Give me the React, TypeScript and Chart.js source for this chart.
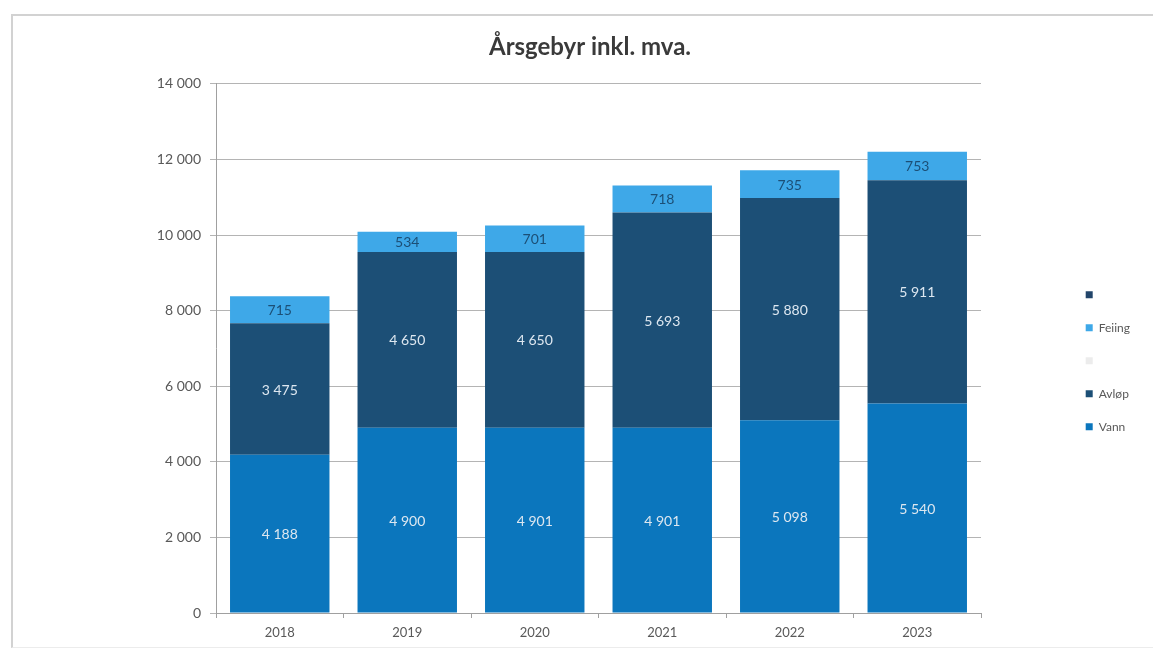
import React, { useEffect, useRef } from "react";
import { Chart, registerables } from "chart.js";

Chart.register(...registerables);

const categories = ["2018", "2019", "2020", "2021", "2022", "2023"];
const vann = [4188, 4900, 4901, 4901, 5098, 5540];
const avlop = [3475, 4650, 4650, 5693, 5880, 5911];
const feiing = [715, 534, 701, 718, 735, 753];
const yTicks = [0, 2000, 4000, 6000, 8000, 10000, 12000, 14000];

const FONT = "Lato, 'Liberation Sans', sans-serif";
const fmt = (v: number) => String(Math.round(v)).replace(/\B(?=(\d{3})+(?!\d))/g, " ");

const labelPlugin = {
  id: "barLabels",
  afterDatasetsDraw(chart: any) {
    const ctx = chart.ctx;
    ctx.save();
    ctx.font = `14px ${FONT}`;
    ctx.textAlign = "center";
    ctx.textBaseline = "middle";
    chart.data.datasets.forEach((ds: any, i: number) => {
      if (!ds.showValues) return;
      const meta = chart.getDatasetMeta(i);
      meta.data.forEach((el: any, j: number) => {
        const v = ds.data[j];
        if (v == null) return;
        ctx.fillStyle = ds.valueColor;
        ctx.fillText(fmt(v), el.x, (el.y + el.base) / 2 + 1);
      });
    });
    ctx.restore();
  },
};

const PAD_R = 13;

export default function App() {
  const ref = useRef<HTMLCanvasElement>(null);
  useEffect(() => {
    if (!ref.current) return;
    const chart = new Chart(ref.current, {
      type: "bar",
      data: {
        labels: categories,
        datasets: [
          { label: "Vann", data: vann, backgroundColor: "#0b76bd", showValues: true, valueColor: "#dde7f0" } as any,
          { label: "Avløp", data: avlop, backgroundColor: "#1c4f76", showValues: true, valueColor: "#dde7f0" } as any,
          { label: "", data: [], backgroundColor: "#ececec" } as any,
          { label: "Feiing", data: feiing, backgroundColor: "#3ea8e8", showValues: true, valueColor: "#1c4f76" } as any,
          { label: "", data: [], backgroundColor: "#22456a" } as any,
        ],
      },
      options: {
        animation: false,
        responsive: false,
        devicePixelRatio: 1,
        layout: { padding: { left: 40, right: PAD_R, top: 23, bottom: 0 } },
        datasets: { bar: { barPercentage: 0.78, categoryPercentage: 1, borderWidth: 0 } },
        plugins: {
          title: {
            display: true,
            text: "Årsgebyr inkl. mva.",
            color: "#3a3a3a",
            font: { family: FONT, size: 24, weight: "bold" },
            padding: { top: 10, bottom: 22 },
          },
          legend: {
            position: "right",
            reverse: true,
            title: { display: true, text: " ", font: { family: FONT, size: 2 }, padding: { top: 23, bottom: 23 } },
            labels: {
              boxWidth: 7,
              boxHeight: 7,
              padding: 21,
              color: "#595959",
              font: { family: FONT, size: 12 },
            },
          },
          tooltip: { enabled: false },
        },
        scales: {
          x: {
            stacked: true,
            grid: { display: true, drawOnChartArea: false, drawTicks: true, tickLength: 5, color: "#a0a0a0", offset: true },
            border: { display: true, color: "#a0a0a0" },
            ticks: { color: "#595959", font: { family: FONT, size: 13 }, padding: 7 },
            afterFit: (s: any) => { s.height = 37; },
          },
          y: {
            stacked: true,
            min: 0,
            max: 14000,
            afterBuildTicks: (s: any) => { s.ticks = yTicks.map((v) => ({ value: v })); },
            grid: { color: "#b4b4b4", tickLength: 6, drawTicks: true },
            border: { display: true, color: "#a0a0a0" },
            ticks: { color: "#595959", font: { family: FONT, size: 14 }, padding: 9, callback: (v: any) => fmt(Number(v)) },
            afterFit: (s: any) => { s.width = 176; },
          },
          y2: {
            type: "linear",
            position: "right",
            display: true,
            grid: { display: false, drawTicks: false },
            border: { display: false },
            ticks: { display: false },
            afterFit: (s: any) => {
              const lw = s.chart.legend ? s.chart.legend.width : 74;
              s.width = Math.max(0, s.chart.width - PAD_R - lw - 981);
            },
          },
        },
      } as any,
      plugins: [labelPlugin],
    });
    return () => chart.destroy();
  }, []);
  return (
    <div style={{ position: "absolute", left: 0, top: 0, width: 1153, height: 650, background: "#fff", overflow: "hidden" }}>
      <canvas ref={ref} width={1153} height={650} style={{ position: "absolute", left: 0, top: 0 }} />
      <div style={{ position: "absolute", left: 11, top: 14, width: 1200, height: 631, borderTop: "2px solid #d2d2d2", borderLeft: "2px solid #d2d2d2", borderBottom: "1px solid #ececec", pointerEvents: "none" }} />
    </div>
  );
}
